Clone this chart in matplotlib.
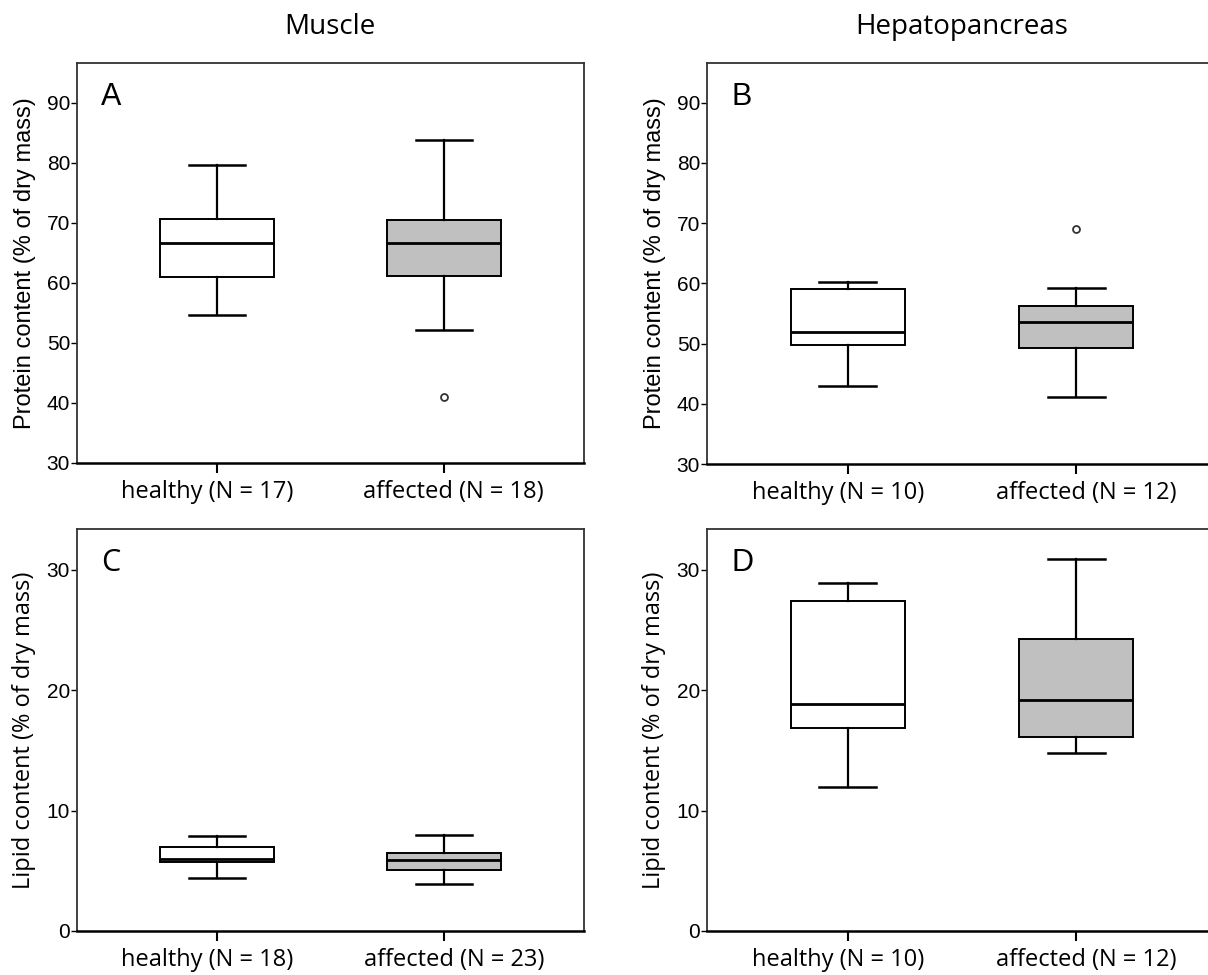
import matplotlib.pyplot as plt

groups = ["healthy", "affected"]

# A: muscle protein
a_n = [17, 18]
a_lo = [54.6, 52.2]
a_q1 = [60.9, 61.1]
a_med = [66.7, 66.7]
a_q3 = [70.6, 70.4]
a_hi = [79.7, 83.8]
a_out = [[], [41.0]]

# B: hepatopancreas protein
b_n = [10, 12]
b_lo = [43.0, 41.2]
b_q1 = [49.8, 49.3]
b_med = [52.0, 53.6]
b_q3 = [59.0, 56.3]
b_hi = [60.3, 59.3]
b_out = [[], [69.0]]

# C: muscle lipid
c_n = [18, 23]
c_lo = [4.4, 3.9]
c_q1 = [5.7, 5.1]
c_med = [6.0, 5.9]
c_q3 = [7.0, 6.5]
c_hi = [7.9, 7.95]
c_out = [[], []]

# D: hepatopancreas lipid
d_n = [10, 12]
d_lo = [12.0, 14.8]
d_q1 = [16.9, 16.1]
d_med = [18.9, 19.2]
d_q3 = [27.4, 24.3]
d_hi = [28.9, 30.9]
d_out = [[], []]

W, H = 1208, 975
fig = plt.figure(figsize=(W / 100, H / 100), dpi=100)


def px_axes(left, top, width, height):
    return fig.add_axes([left / W, 1 - (top + height) / H, width / W, height / H])


def panel(ax, letter, n, lo, q1, med, q3, hi, out, ylim, yticks, ylabel, lab_font, let_font):
    stats = []
    for i in range(2):
        stats.append({"med": med[i], "q1": q1[i], "q3": q3[i],
                      "whislo": lo[i], "whishi": hi[i], "fliers": out[i]})
    bp = ax.bxp(stats, positions=[1, 2], widths=0.5, patch_artist=True,
                boxprops=dict(edgecolor="black", linewidth=1.4),
                medianprops=dict(color="black", linewidth=2.0),
                whiskerprops=dict(color="black", linewidth=1.6),
                capprops=dict(color="black", linewidth=1.8),
                capwidths=0.25,
                flierprops=dict(marker="o", markersize=5, markerfacecolor="white",
                                markeredgecolor="#333333", markeredgewidth=1.3))
    for patch, fc in zip(bp["boxes"], ["white", "#c0c0c0"]):
        patch.set_facecolor(fc)
    ax.set_xlim(0.383, 2.617)
    ax.set_ylim(*ylim)
    ax.set_yticks(yticks)
    ax.set_xticks([1, 2])
    ax.set_xticklabels([])
    # group labels sit a little off the tick centres in the original
    for pos, g, k, dx in zip([1, 2], groups, n, [-7, 7]):
        ax.annotate(f"{g} (N = {k})", xy=(pos, 0), xycoords=("data", "axes fraction"),
                    xytext=(dx, -12.5), textcoords="offset points",
                    ha="center", va="top", fontsize=17, family="Open Sans")
    for t in ax.get_yticklabels():
        t.set_fontsize(15)
        t.set_family("Liberation Sans")
    ax.tick_params(axis="y", direction="out", length=4, width=1, pad=1)
    ax.tick_params(axis="x", direction="out", length=7, width=1.5)
    for s in ax.spines.values():
        s.set_color("#333333")
        s.set_linewidth(1.3)
    ax.spines["bottom"].set_color("black")
    ax.spines["bottom"].set_linewidth(1.8)
    ax.set_ylabel(ylabel, fontsize=17, family=lab_font)
    ax.yaxis.set_label_coords(-0.08, 0.5)
    ax.text(0.048, 0.915, letter, transform=ax.transAxes, fontsize=22,
            family=let_font, ha="left", va="center")


ax_a = px_axes(77, 63, 507, 400)
ax_b = px_axes(707, 63, 510, 401)
ax_c = px_axes(77, 529, 507, 402)
ax_d = px_axes(707, 529, 510, 402)

prot_lab = "Protein content (% of dry mass)"
lip_lab = "Lipid content (% of dry mass)"

panel(ax_a, "A", a_n, a_lo, a_q1, a_med, a_q3, a_hi, a_out, (30, 96.6),
      range(30, 91, 10), prot_lab, "Liberation Sans", "Liberation Sans")
panel(ax_b, "B", b_n, b_lo, b_q1, b_med, b_q3, b_hi, b_out, (30, 96.6),
      range(30, 91, 10), prot_lab, "Liberation Sans", "Liberation Sans")
panel(ax_c, "C", c_n, c_lo, c_q1, c_med, c_q3, c_hi, c_out, (0, 33.4),
      range(0, 31, 10), lip_lab, "Open Sans", "Open Sans")
panel(ax_d, "D", d_n, d_lo, d_q1, d_med, d_q3, d_hi, d_out, (0, 33.4),
      range(0, 31, 10), lip_lab, "Open Sans", "Liberation Sans")

fig.text(330 / W, 1 - 27 / H, "Muscle", fontsize=20, family="Open Sans",
         ha="center", va="center")
fig.text(962 / W, 1 - 27 / H, "Hepatopancreas", fontsize=20, family="Open Sans",
         ha="center", va="center")

fig.savefig("out.png", dpi=100)
